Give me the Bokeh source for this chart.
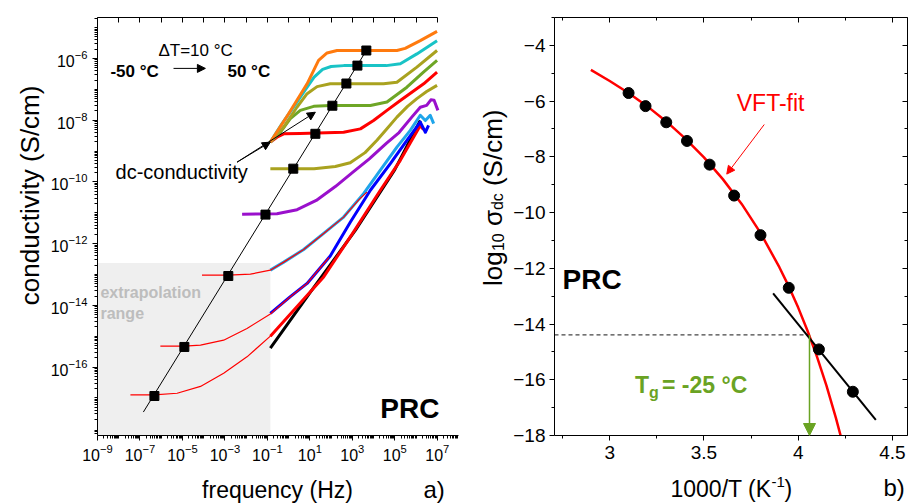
import math
import numpy as np
from bokeh.plotting import figure
from bokeh.layouts import row, column
from bokeh.models import (Range1d, FixedTicker, LogAxis, LinearAxis, Label, Arrow,
                          NormalHead, CustomJSTickFormatter)
from bokeh.embed import file_html
from bokeh.resources import INLINE

FONT = "Liberation Sans"

# ---------------- panel a) : log10(frequency / Hz) , log10(conductivity / S cm-1) ----------------
f_p50 = [-0.86, 0.0, 0.87, 1.41, 1.81, 2.28, 3.50, 5.10, 5.49, 6.20, 6.99]
s_p50 = [-8.71, -7.79, -6.82, -6.06, -5.82, -5.74, -5.74, -5.74, -5.67, -5.42, -5.12]
f_p40 = [-0.86, -0.30, 0.30, 0.80, 1.20, 1.60, 2.00, 2.60, 4.60, 5.26, 6.04, 6.99]
s_p40 = [-8.71, -8.10, -7.50, -7.00, -6.60, -6.35, -6.26, -6.23, -6.23, -6.17, -5.85, -5.42]
f_p30 = [-0.86, -0.23, 0.39, 0.87, 1.34, 1.96, 4.47, 5.10, 6.04, 6.99]
s_p30 = [-8.71, -8.22, -7.58, -7.14, -6.91, -6.82, -6.82, -6.77, -6.28, -5.74]
f_p20 = [-0.86, -0.39, 0.08, 0.55, 1.18, 1.96, 3.85, 4.63, 5.57, 6.35, 6.99]
s_p20 = [-8.71, -8.39, -7.95, -7.68, -7.55, -7.52, -7.52, -7.41, -6.93, -6.44, -6.06]
f_p10 = [-0.86, -0.55, -0.23, 0.55, 2.59, 3.38, 4.00, 4.63, 5.26, 6.36, 6.99]
s_p10 = [-8.71, -8.55, -8.44, -8.43, -8.39, -8.28, -8.01, -7.68, -7.36, -6.82, -6.44]
f_p0 = [-0.86, 1.20, 2.20, 2.90, 3.60, 4.16, 4.60, 5.10, 5.60, 6.04, 6.50, 6.99]
s_p0 = [-9.57, -9.57, -9.50, -9.38, -9.05, -8.65, -8.30, -7.90, -7.55, -7.30, -7.07, -6.87]
f_m10 = [-2.19, -0.55, 0.40, 1.30, 2.20, 3.00, 3.80, 4.60, 5.20, 5.80, 6.20, 6.50, 6.70, 6.85, 7.03]
s_m10 = [-11.05, -11.03, -10.90, -10.60, -10.15, -9.70, -9.25, -8.75, -8.40, -7.90, -7.58, -7.52, -7.34, -7.35, -7.68]
f_m20 = [-0.86, -0.23, 0.71, 1.65, 2.59, 3.53, 4.32, 5.10, 5.73, 6.20, 6.44, 6.67, 6.83]
s_m20 = [-12.86, -12.60, -12.19, -11.67, -11.14, -10.38, -9.62, -8.87, -8.33, -7.84, -8.01, -7.84, -8.11]
f_m30 = [-0.86, 0.08, 0.87, 1.96, 2.91, 3.85, 4.79, 5.57, 6.20, 6.44, 6.59]
s_m30 = [-14.26, -13.72, -13.29, -12.40, -11.30, -10.27, -9.41, -8.65, -8.06, -8.39, -8.17]
f_m40 = [-0.86, 0.39, 1.65, 3.06, 4.32, 5.26, 6.20, 6.35]
s_m40 = [-15.00, -14.05, -13.08, -11.62, -10.27, -9.30, -8.17, -8.30]
f_m50 = [-0.86, 1.00, 3.14, 5.00, 6.20]
s_m50 = [-15.39, -13.60, -11.57, -9.60, -8.01]

# extrapolated fits (thin red)
fit_f_m20 = [-4.08, -2.84, -1.80, -0.86, -0.23, 0.71, 1.65, 2.59, 3.30, 3.69]
fit_s_m20 = [-13.02, -13.02, -12.99, -12.86, -12.60, -12.19, -11.67, -11.14, -10.58, -10.33]
fit_f_m30 = [-6.04, -4.91, -4.15, -3.06, -1.96, -0.86, 0.08, 0.87, 1.90]
fit_s_m30 = [-15.32, -15.32, -15.29, -15.13, -14.75, -14.28, -13.72, -13.29, -12.45]
fit_f_m40 = [-7.45, -6.33, -5.25, -4.15, -3.06, -1.96, -0.86, 0.39, 1.00]
fit_s_m40 = [-16.90, -16.90, -16.85, -16.63, -16.20, -15.67, -15.00, -14.05, -13.60]

# dc-conductivity values (squares) and the guide line through them
dc_f = [-6.32, -4.91, -2.84, -1.09, 0.22, 1.26, 2.06, 2.72, 3.24, 3.66]
dc_s = [-16.94, -15.35, -13.05, -11.06, -9.57, -8.44, -7.53, -6.81, -6.23, -5.74]
dc_line_f = [-6.84, 3.75]
dc_line_s = [-17.46, -5.64]

# extrapolation range box (log10 units)
extrap_f = [-10.0, -0.86]
extrap_top = -12.63

# ---------------- panel b) ----------------
inv_T = [3.10, 3.19, 3.30, 3.41, 3.53, 3.66, 3.80, 3.95, 4.11, 4.29]
log_sdc = [-5.71, -6.18, -6.76, -7.43, -8.28, -9.39, -10.81, -12.70, -14.91, -16.43]
vft_x = [2.90, 3.00, 3.10, 3.20, 3.30, 3.40, 3.50, 3.60, 3.70, 3.80, 3.90, 3.95,
         4.00, 4.05, 4.10, 4.15, 4.20, 4.23]
vft_y = [-4.88, -5.28, -5.71, -6.19, -6.73, -7.34, -8.02, -8.80, -9.69, -10.73, -11.96,
         -12.65, -13.41, -14.25, -15.18, -16.21, -17.37, -18.13]
lin_x = [3.867, 4.412]
lin_y = [-12.90, -17.44]
tg_x = 4.06
tg_y = -14.39

GREEN = "#6aa323"


def P(v):
    return 10.0 ** np.asarray(v, dtype=float)


def hide_labels(ax):
    ax.formatter = CustomJSTickFormatter(code="return ''")
    ax.major_label_standoff = 0
    ax.major_label_text_font_size = "8px"


def style_axis(ax, inward=False):
    ax.axis_line_color = "black"
    ax.axis_line_width = 1
    ax.major_tick_line_color = "black"
    ax.minor_tick_line_color = "black"
    if inward:
        ax.major_tick_in, ax.major_tick_out = 5, 0
        ax.minor_tick_in, ax.minor_tick_out = 3, 0
    else:
        ax.major_tick_in, ax.major_tick_out = 0, 5
        ax.minor_tick_in, ax.minor_tick_out = 0, 3
    ax.major_label_text_font = FONT
    ax.major_label_text_color = "black"


def clean(p):
    p.outline_line_color = None
    p.background_fill_color = "white"
    p.border_fill_color = "white"


def lab(p, x, y, text, size, bold=False, color="black", align="left", baseline="middle",
        angle=0.0, xo=0, yo=0):
    p.add_layout(Label(x=x, y=y, text=text, text_font=FONT, text_font_size=f"{size}px",
                       text_font_style="bold" if bold else "normal", text_color=color,
                       text_align=align, text_baseline=baseline, angle=angle,
                       x_offset=xo, y_offset=yo))


def strip(x0, x1, y0, y1):
    # text-only area; data units = page pixels (y downwards)
    s = figure(width=x1 - x0, height=y1 - y0, x_range=Range1d(x0, x1), y_range=Range1d(y1, y0),
               output_backend="svg", toolbar_location=None, x_axis_location=None,
               y_axis_location=None, min_border=0)
    clean(s)
    s.xgrid.visible = False
    s.ygrid.visible = False
    return s


# page columns: [0,47) left label | [47,474) panel a | [474,510) label | [510,908) panel b
# ================= panel a =================
p1 = figure(width=427, height=470, x_axis_type="log", y_axis_type="log",
            x_range=Range1d(1e-9, 1e8), y_range=Range1d(10 ** -18.22, 10 ** -4.67),
            output_backend="svg", toolbar_location=None,
            min_border_left=50, min_border_right=16, min_border_top=17, min_border_bottom=34)
clean(p1)
p1.xgrid.grid_line_color = None
p1.ygrid.grid_line_color = None

x_major = [10.0 ** e for e in range(-9, 8, 2)]
x_minor = [k * 10.0 ** e for e in range(-9, 8) for k in range(1, 10)
           if not (k == 1 and e % 2 != 0)]
x_minor = [t for t in x_minor if t <= 1e8]
y_major = [10.0 ** e for e in range(-16, -5, 2)]
y_minor = [k * 10.0 ** e for e in range(-19, -4) for k in range(1, 10)
           if not (k == 1 and e % 2 == 0)]

p1.xaxis.ticker = FixedTicker(ticks=x_major, minor_ticks=x_minor)
p1.yaxis.ticker = FixedTicker(ticks=y_major, minor_ticks=y_minor)
style_axis(p1.xaxis[0])
style_axis(p1.yaxis[0])
p1.xaxis.major_label_text_font_size = "16px"
p1.yaxis.major_label_text_font_size = "16px"
p1.xaxis.major_label_standoff = 3

top1 = LogAxis(ticker=FixedTicker(ticks=[10.0 ** e for e in range(-9, 8)]), bounds=(1e-9, 1e7))
style_axis(top1, inward=True)
hide_labels(top1)
p1.add_layout(top1, "above")

p1.quad(left=P(extrap_f[0]), right=P(extrap_f[1]), bottom=1e-20, top=P(extrap_top),
        fill_color="#efefef", line_color=None)

curves = [
    (f_m50, s_m50, "black"),
    (f_m40, s_m40, "#ff0000"),
    (f_m30, s_m30, "#0000ff"),
    (f_m20, s_m20, "#1fa5ea"),
    (f_m10, s_m10, "#9a10cc"),
    (f_p0, s_p0, "#a9a21f"),
    (f_p10, s_p10, "#ff0000"),
    (f_p20, s_p20, "#6ea626"),
    (f_p30, s_p30, "#a9a21f"),
    (f_p40, s_p40, "#19c3c6"),
    (f_p50, s_p50, "#ff7a0e"),
]
for lf, ls, c in curves:
    p1.line(P(lf), P(ls), line_color=c, line_width=3, line_join="round")

for lf, ls in [(fit_f_m20, fit_s_m20), (fit_f_m30, fit_s_m30), (fit_f_m40, fit_s_m40)]:
    p1.line(P(lf), P(ls), line_color="#ff0000", line_width=1.2)

p1.line(P(dc_line_f), P(dc_line_s), line_color="black", line_width=1)
p1.scatter(P(dc_f), P(dc_s), marker="square", size=9, fill_color="black", line_color="black")

lab(p1, 10 ** -6.13, 10 ** -5.74, "ΔT=10 °C", 17)
lab(p1, 10 ** -8.39, 10 ** -6.42, "-50 °C", 17, bold=True)
lab(p1, 10 ** -2.88, 10 ** -6.42, "50 °C", 17, bold=True)
p1.add_layout(Arrow(end=NormalHead(size=8, fill_color="black", line_color="black"),
                    x_start=10 ** -5.42, y_start=10 ** -6.32, x_end=10 ** -3.92, y_end=10 ** -6.32,
                    line_color="black", line_width=1))
lab(p1, 10 ** -8.15, 10 ** -9.68, "dc-conductivity", 20)
for xe, ye in [(-0.86, -8.71), (1.26, -7.74)]:
    p1.add_layout(Arrow(end=NormalHead(size=8, fill_color="black", line_color="black"),
                        x_start=10 ** -2.43, y_start=10 ** -9.36, x_end=10 ** xe, y_end=10 ** ye,
                        line_color="black", line_width=1))
lab(p1, 10 ** -8.86, 10 ** -13.6, "extrapolation", 16, bold=True, color="#bdbdbd")
lab(p1, 10 ** -8.86, 10 ** -14.25, "range", 16, bold=True, color="#bdbdbd")
lab(p1, 10 ** 4.32, 10 ** -17.33, "PRC", 28, bold=True)

# ================= panel b =================
p2 = figure(width=398, height=470, x_range=Range1d(2.707, 4.58), y_range=Range1d(-18, -3),
            output_backend="svg", toolbar_location=None,
            min_border_left=42, min_border_right=1, min_border_top=17, min_border_bottom=35)
clean(p2)
p2.xgrid.grid_line_color = None
p2.ygrid.grid_line_color = None

p2.xaxis.ticker = FixedTicker(ticks=[3.0, 3.5, 4.0, 4.5], minor_ticks=[2.75, 3.25, 3.75, 4.25])
p2.yaxis.ticker = FixedTicker(ticks=list(range(-18, -3, 2)), minor_ticks=list(range(-17, -2, 2)))
p2.xaxis.formatter = CustomJSTickFormatter(code="return (tick % 1 == 0) ? tick.toFixed(0) : tick.toFixed(1)")
style_axis(p2.xaxis[0])
style_axis(p2.yaxis[0])
p2.xaxis.major_label_text_font_size = "19px"
p2.yaxis.major_label_text_font_size = "19px"
p2.yaxis.major_label_standoff = 4

top2 = LinearAxis(ticker=FixedTicker(ticks=[3.0, 3.5, 4.0, 4.5], minor_ticks=[2.75, 3.25, 3.75, 4.25]))
style_axis(top2, inward=True)
hide_labels(top2)
p2.add_layout(top2, "above")
right2 = LinearAxis(ticker=FixedTicker(ticks=list(range(-18, -3, 2)), minor_ticks=list(range(-17, -2, 2))))
style_axis(right2, inward=True)
hide_labels(right2)
p2.add_layout(right2, "right")

p2.line([2.707, tg_x], [tg_y, tg_y], line_color="#444444", line_width=1.2, line_dash="4 3")
p2.line(vft_x, vft_y, line_color="#ff0000", line_width=2.5)
p2.line(lin_x, lin_y, line_color="black", line_width=2)
p2.scatter(inv_T, log_sdc, size=11, fill_color="black", line_color="black")
p2.add_layout(Arrow(end=NormalHead(size=12, fill_color=GREEN, line_color=GREEN),
                    x_start=tg_x, y_start=tg_y, x_end=tg_x, y_end=-18.0,
                    line_color=GREEN, line_width=1.5))
p2.add_layout(Arrow(end=NormalHead(size=8, fill_color="#ff0000", line_color="#ff0000"),
                    x_start=3.82, y_start=-6.84, x_end=3.621, y_end=-8.62,
                    line_color="#ff0000", line_width=1))

lab(p2, 3.674, -6.08, "VFT-fit", 23, color="#ff0000")
lab(p2, 2.75, -12.39, "PRC", 28, bold=True)
lab(p2, 3.134, -16.19, "T", 23, bold=True, color=GREEN)
lab(p2, 3.134, -16.19, "g", 16, bold=True, color=GREEN, xo=14, yo=-7)
lab(p2, 3.134, -16.19, " = -25 °C", 23, bold=True, color=GREEN, xo=27)

# ================= text strips outside the plot frames (page-pixel units) =================
sL = strip(0, 47, 0, 470)
lab(sL, 29, 200, "conductivity (S/cm)", 26, align="center", angle=math.pi / 2)

sM = strip(474, 510, 0, 470)
yl_x, yl_y = 492, 302
lab(sM, yl_x, yl_y, "log", 26, angle=math.pi / 2)
lab(sM, yl_x, yl_y, "10", 16, angle=math.pi / 2, yo=35, xo=5)
lab(sM, yl_x, yl_y, "σ", 26, angle=math.pi / 2, yo=60)
lab(sM, yl_x, yl_y, "dc", 16, angle=math.pi / 2, yo=76, xo=5)
lab(sM, yl_x, yl_y, "(S/cm)", 26, angle=math.pi / 2, yo=100)

sB = strip(0, 908, 470, 503)
lab(sB, 277, 489, "frequency (Hz)", 23, align="center")
lab(sB, 423, 489, "a)", 24)
lab(sB, 670, 488, "1000/T (K", 23)
lab(sB, 670, 488, "-1", 15, xo=101, yo=7)
lab(sB, 670, 488, ")", 23, xo=114)
lab(sB, 883, 487, "b)", 24)

layout = column(row(sL, p1, sM, p2), sB)
open("out.html", "w").write(file_html(layout, INLINE))
